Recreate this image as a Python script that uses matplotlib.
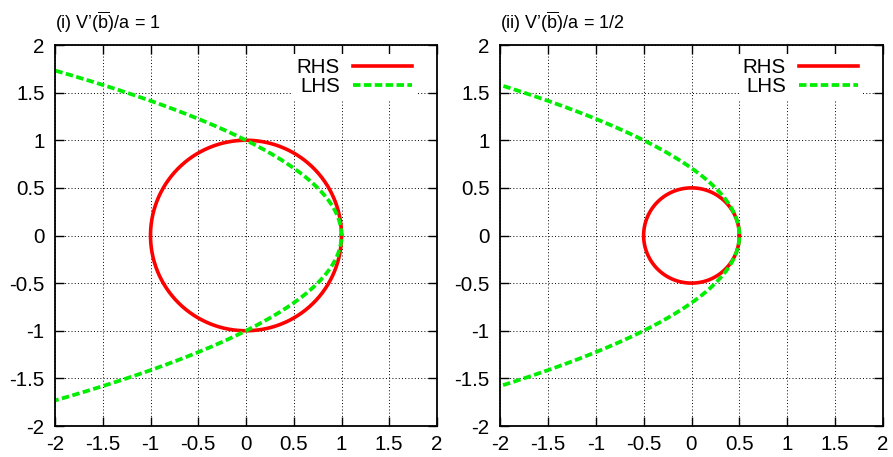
import numpy as np
import matplotlib.pyplot as plt

plt.rcParams['font.family'] = ['Liberation Sans', 'DejaVu Sans']
plt.rcParams['mathtext.fontset'] = 'custom'
plt.rcParams['mathtext.rm'] = 'Liberation Sans'
plt.rcParams['mathtext.it'] = 'Liberation Sans:italic'
plt.rcParams['font.size'] = 15

# V'(b)/a for each panel: circle radius and parabola vertex
ratios = [1.0, 0.5]
titles = [r"(i) V’($\overline{\mathrm{b}}$)/a = 1",
          r"(ii) V’($\overline{\mathrm{b}}$)/a = 1/2"]
ticks = [-2, -1.5, -1, -0.5, 0, 0.5, 1, 1.5, 2]
tick_labels = ["-2", "-1.5", "-1", "-0.5", "0", "0.5", "1", "1.5", "2"]

theta = np.linspace(0, 2 * np.pi, 500)
ys = np.linspace(-2, 2, 500)

fig = plt.figure(figsize=(8.93, 4.57), dpi=100)
axes = [fig.add_axes([55 / 893, 31 / 457, 382 / 893, 381 / 457]),
        fig.add_axes([500 / 893, 31 / 457, 383 / 893, 381 / 457])]

for ax, r, title in zip(axes, ratios, titles):
    # RHS: circle of radius r, LHS: parabola x = r - y^2
    ax.plot(r * np.cos(theta), r * np.sin(theta), color='#ff0000', lw=2.6, label='RHS')
    ax.plot(r - ys ** 2, ys, color='#00ee00', lw=2.7, dashes=(2.0, 0.9), label='LHS')

    ax.set_xlim(-2, 2)
    ax.set_ylim(-2, 2)
    ax.set_xticks(ticks)
    ax.set_xticklabels(tick_labels)
    ax.set_yticks(ticks)
    ax.set_yticklabels(tick_labels)
    ax.tick_params(direction='in', length=6.5, width=1.0, top=True, right=True,
                   labelsize=14.8)
    ax.tick_params(axis='y', pad=7.5)
    ax.tick_params(axis='x', pad=6.5)
    ax.grid(True, color='black', lw=0.7, linestyle=(0, (1, 2.3)))
    for s in ax.spines.values():
        s.set_linewidth(1.3)

    ax.set_title(title, loc='left', pad=11.5, fontsize=13)

    leg = ax.legend(loc='upper right', markerfirst=False, frameon=True,
                    fancybox=False, framealpha=1, facecolor='white',
                    edgecolor='none', borderpad=0.2, borderaxespad=0,
                    bbox_to_anchor=(1 - 21 / 382, 1 - 9 / 381),
                    handlelength=2.85, handletextpad=0.65, labelspacing=0.0,
                    fontsize=14.8)
    for t in leg.get_texts():
        t.set_ha('right')

fig.savefig('out.png', dpi=100)
